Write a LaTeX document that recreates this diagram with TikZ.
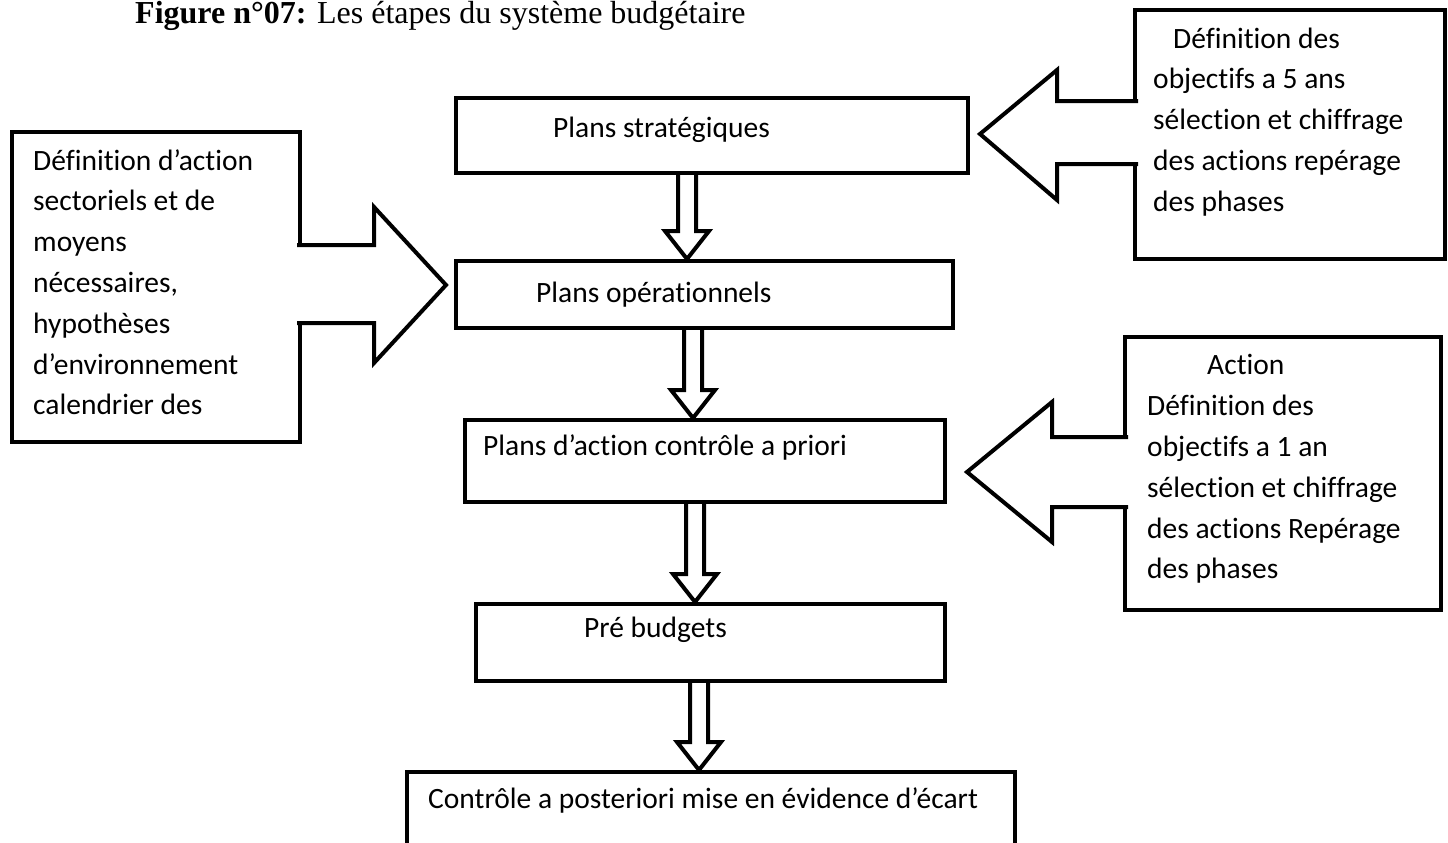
\documentclass[tikz,border=0pt]{standalone}
\usepackage{fontspec}
\setmainfont{Carlito}[Ligatures={NoCommon}]
\newfontfamily\titlefont{Liberation Serif}
\usetikzlibrary{calc,backgrounds}

% downward block arrow between two stacked stages, at the x of coordinate #1
\newcommand\stagearrow[3]{%
  \draw[blk] ($(#2.south -| #1)+(-9,0)$) -- ($(#3.north -| #1)+(-9,-28)$)
    -- ++(-13,0) -- (#3.north -| #1) -- ++(22,-28) -- ++(-13,0)
    -- ($(#2.south -| #1)+(9,0)$);}

\begin{document}
\begin{tikzpicture}[x=1pt,y=-1pt,
  stage/.style={draw, line width=4pt, inner sep=0pt, anchor=north west},
  sidebox/.style={draw, line width=4pt, inner sep=0pt, anchor=north west, line join=miter},
  lbl/.style={anchor=base west, inner sep=0pt, font=\fontsize{29.5}{41}\selectfont},
  para/.style={anchor=north west, inner sep=0pt, align=left, font=\fontsize{29.5}{40.8}\selectfont},
  blk/.style={draw, line width=4pt, fill=white, line join=miter}]

\useasboundingbox (0,0) rectangle (1448,843);

% title
\node[anchor=base west, inner sep=0pt, font=\titlefont\fontsize{32}{38}\selectfont] (title) at (135,24)
  {\textbf{Figure n°07:} Les étapes du système budgétaire};

% the five stages
\node[stage, minimum width=512pt, minimum height=75pt] (b1) at (454,96) {};
\node[stage, minimum width=497pt, minimum height=67pt] (b2) at (454,259) {};
\node[stage, minimum width=480pt, minimum height=82pt] (b3) at (463,418) {};
\node[stage, minimum width=469pt, minimum height=77pt] (b4) at (474,602) {};
\node[stage, minimum width=608pt, minimum height=74pt] (b5) at (405,770) {};

\node[lbl] (t1) at (553,137) {Plans stratégiques};
\node[lbl] (t2) at (536,302) {Plans opérationnels};
\node[lbl] (t3) at (483,455) {Plans d’action contrôle a priori};
\node[lbl] (t4) at (584,637) {Pré budgets};
\node[lbl] (t5) at (428,808) {Contrôle a posteriori mise en évidence d’écart};

% arrows between stages, behind the stage outlines
\coordinate (ax1) at (687,0);
\coordinate (ax2) at (693,0);
\coordinate (ax3) at (695,0);
\coordinate (ax4) at (699,0);
\begin{scope}[on background layer]
  \stagearrow{ax1}{b1}{b2}
  \stagearrow{ax2}{b2}{b3}
  \stagearrow{ax3}{b3}{b4}
  \stagearrow{ax4}{b4}{b5}
\end{scope}

% side boxes
\node[sidebox, minimum width=288pt, minimum height=310pt] (lbox) at (10,130) {};
\node[sidebox, minimum width=310pt, minimum height=249pt] (r1box) at (1133,8) {};
\node[sidebox, minimum width=316pt, minimum height=273pt] (r2box) at (1123,335) {};

% callout arrows joining the side boxes to the stages
\coordinate (ltip) at ($(lbox.north east)+(144,155)$);
\draw[blk] ($(lbox.north east)+(-5,115)$) -- ++(77,0) -- ++(0,-38) -- (ltip)
  -- ($(lbox.north east)+(72,233)$) -- ++(0,-40) -- ++(-77,0);

\coordinate (r1tip) at ($(r1box.north west)+(-153,126)$);
\draw[blk] ($(r1box.north west)+(5,93)$) -- ++(-81,0) -- ++(0,-31) -- (r1tip)
  -- ($(r1box.north west)+(-76,192)$) -- ++(0,-36) -- ++(81,0);

\coordinate (r2tip) at ($(r2box.north west)+(-156,137)$);
\draw[blk] ($(r2box.north west)+(5,102)$) -- ++(-76,0) -- ++(0,-35) -- (r2tip)
  -- ($(r2box.north west)+(-71,207)$) -- ++(0,-35) -- ++(76,0);

% side texts
\node[para] (ltext) at (33,141.4) {\strut Définition d’action\\sectoriels et de\\moyens\\nécessaires,\\hypothèses\\d’environnement\\calendrier des};
\node[para] (r1text) at (1153,19.4) {\strut\hspace*{20pt}Définition des\\objectifs a 5 ans\\sélection et chiffrage\\des actions repérage\\des phases};
\node[para] (r2text) at (1147,346) {\fontsize{29.5}{41}\selectfont\strut\hspace*{60pt}Action\\Définition des\\objectifs a 1 an\\sélection et chiffrage\\des actions Repérage\\des phases};

\end{tikzpicture}
\end{document}
